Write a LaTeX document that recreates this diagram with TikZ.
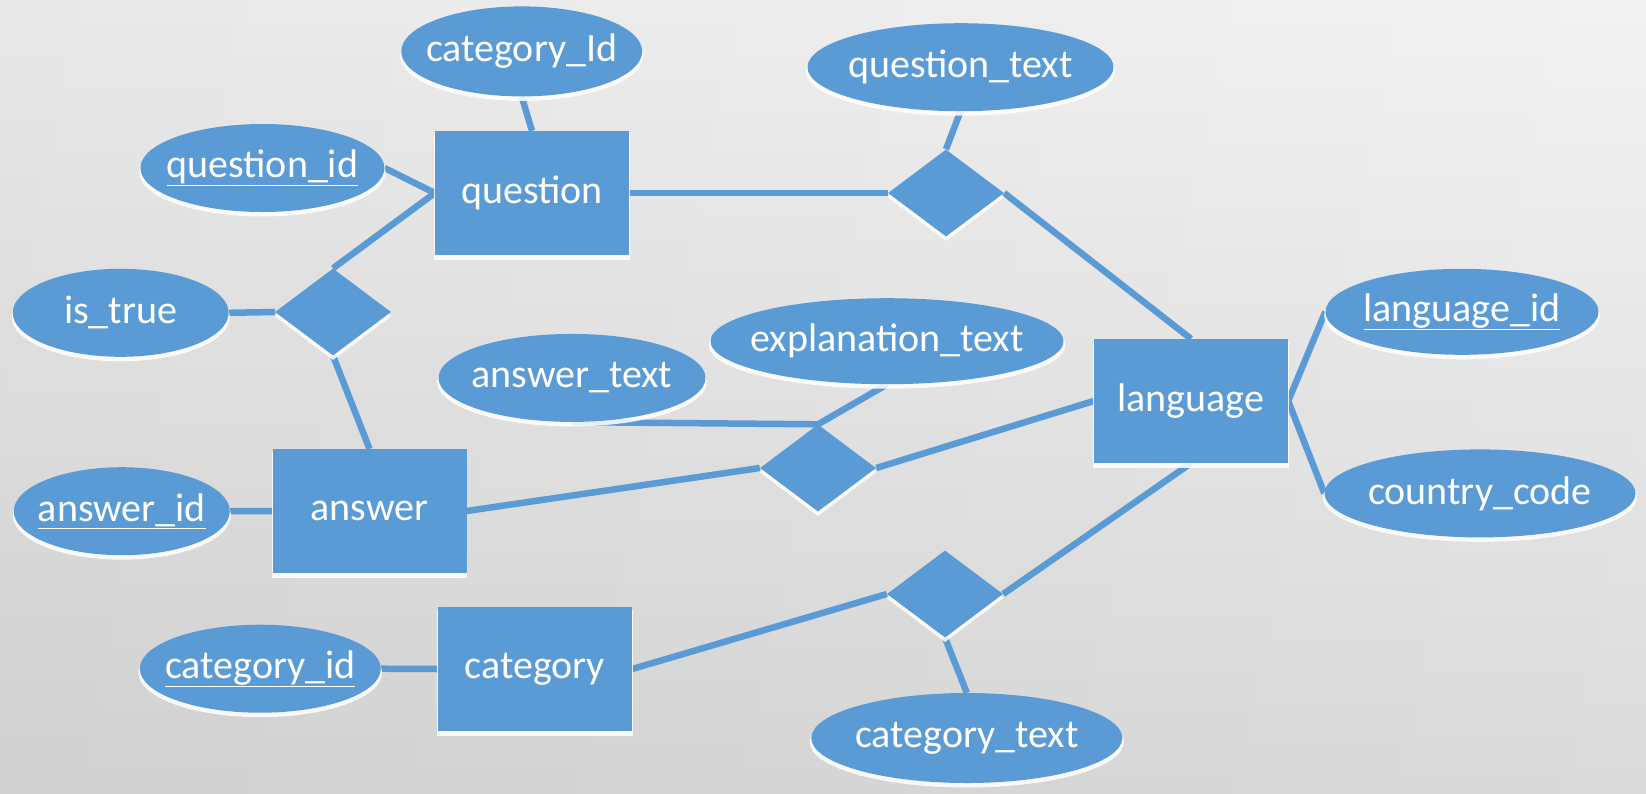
\documentclass[tikz,border=0pt]{standalone}
\usepackage{fontspec}
\setmainfont{Carlito}
\usetikzlibrary{shapes.geometric,shadows}
\definecolor{erblue}{HTML}{5B9BD5}
\newcommand{\erfont}{\fontsize{40}{47}\selectfont}
\newcommand{\zw}[1]{\makebox[0pt]{#1}}
\pgfdeclarelayer{back}
\pgfdeclarelayer{lines}
\pgfsetlayers{back,lines,main}
\tikzset{
  glow/.style={drop shadow={shadow xshift=0pt, shadow yshift=-4pt, shadow scale=1.01, fill=white, opacity=0.85}},
  ent/.style={rectangle, draw=none, fill=erblue, minimum width=194pt, minimum height=124pt, inner sep=0pt, text=white, font=\erfont, glow},
  rel/.style={diamond, draw=none, fill=erblue, minimum width=116pt, minimum height=87pt, inner sep=0pt, glow},
  attr/.style={ellipse, draw=none, fill=erblue, inner sep=0pt, text=white, font=\erfont, glow},
  conn/.style={draw=erblue, line width=6.5pt}
}
\begin{document}
\begin{tikzpicture}[x=1pt,y=-1pt]
\useasboundingbox (0,0) rectangle (1646,793);
\begin{pgfonlayer}{back}
  \shade[top color=black!5, bottom color=black!15] (0,0) rectangle (1646,793);
  \shade[left color=black, right color=white, opacity=0.04] (0,0) rectangle (1646,793);
\end{pgfonlayer}

% entities
\node[ent] (question) at (532,193) {question};
\node[ent] (answer) at (369.5,511) {answer};
\node[ent] (language) at (1191,401) {language};
\node[ent] (category) at (535,669) {category};

% relationships
\node[rel] (rq) at (946,193) {};
\node[rel] (ra) at (333,312) {};
\node[rel] (rl) at (818,468) {};
\node[rel] (rc) at (945,594) {};

% attributes
\node[attr, minimum width=241pt, minimum height=90pt] (catId) at (521.7,51.4) {\zw{category\_Id}};
\node[attr, minimum width=306pt, minimum height=88pt] (qtext) at (960.5,67.2) {\zw{question\_text}};
\node[attr, minimum width=244pt, minimum height=88pt] (qid) at (262.4,168) {\zw{\underline{question\_id}}};
\node[attr, minimum width=216pt, minimum height=88pt] (istrue) at (120.7,312.8) {\zw{is\_true}};
\node[attr, minimum width=353pt, minimum height=86pt] (etext) at (887,341.2) {\zw{explanation\_text}};
\node[attr, minimum width=267pt, minimum height=88pt] (atext) at (572,377.9) {\zw{answer\_text}};
\node[attr, minimum width=273pt, minimum height=86pt] (lid) at (1462,311.8) {\zw{\underline{language\_id}}};
\node[attr, minimum width=311pt, minimum height=88pt] (ccode) at (1480,493.4) {\zw{country\_code}};
\node[attr, minimum width=216pt, minimum height=88pt] (aid) at (121.8,511.2) {\zw{\underline{answer\_id}}};
\node[attr, minimum width=241pt, minimum height=88pt] (cid) at (260.3,668.7) {\zw{\underline{category\_id}}};
\node[attr, minimum width=311pt, minimum height=90pt] (ctext) at (966.8,738) {\zw{category\_text}};

\begin{pgfonlayer}{lines}
  \draw[conn] (catId.south) -- (question.north);
  \draw[conn] (qid.east) -- (question.west);
  \draw[conn] (question.west) -- (ra.north);
  \draw[conn] (istrue.east) -- (ra.west);
  \draw[conn] (ra.south) -- (answer.north);
  \draw[conn] (aid.east) -- (answer.west);
  \draw[conn] (question.east) -- (rq.west);
  \draw[conn] (qtext.south) -- (rq.north);
  \draw[conn] (rq.east) -- (language.north);
  \draw[conn] (answer.east) -- (rl.west);
  \draw[conn] (rl.east) -- (language.west);
  \draw[conn] (atext.south) -- (rl.north);
  \draw[conn] (etext.south) -- (rl.north);
  \draw[conn] (language.east) -- (lid.west);
  \draw[conn] (language.east) -- (ccode.west);
  \draw[conn] (language.south) -- (rc.east);
  \draw[conn] (cid.east) -- (category.west);
  \draw[conn] (category.east) -- (rc.west);
  \draw[conn] (rc.south) -- (ctext.north);
\end{pgfonlayer}
\end{tikzpicture}
\end{document}
